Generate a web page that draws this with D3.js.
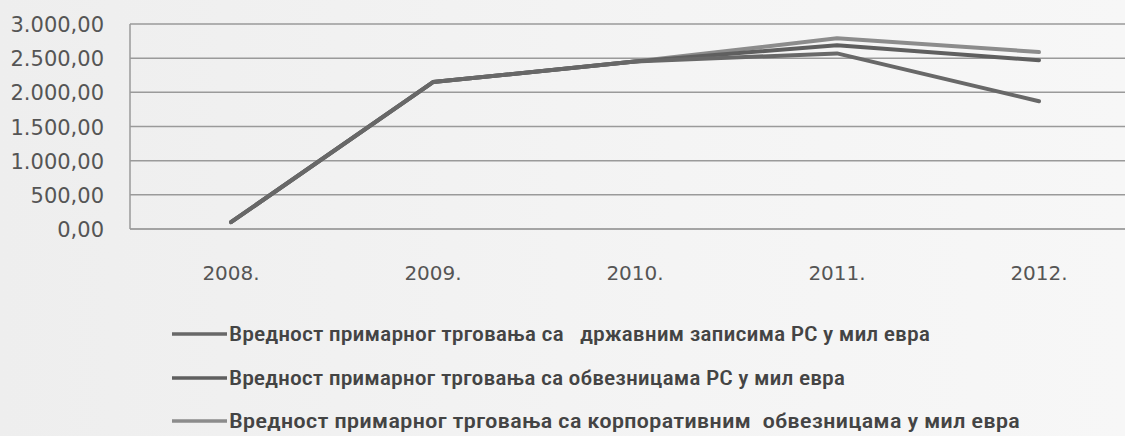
<!DOCTYPE html>
<html><head><meta charset="utf-8">
<script src="https://cdn.jsdelivr.net/npm/d3@7/dist/d3.min.js"></script>
<style>body{margin:0;background:#f2f2f2;}svg{display:block;}</style>
</head><body><svg id="c" width="1125" height="436"></svg>
<script>
const years = ["2008.", "2009.", "2010.", "2011.", "2012."];
const stateBills = [100, 2150, 2450, 2570, 1870];
const bondsRS = [100, 2150, 2450, 2690, 2470];
const corpBonds = [100, 2150, 2450, 2790, 2590];
const yTicks = [0, 500, 1000, 1500, 2000, 2500, 3000];
const seriesNames = [
  "Вредност примарног трговања са   државним записима РС у мил евра",
  "Вредност примарног трговања са обвезницама РС у мил евра",
  "Вредност примарног трговања са корпоративним  обвезницама у мил евра"
];
const seriesData = [stateBills, bondsRS, corpBonds];
const colors = ["#686868", "#5f5f5f", "#8c8c8c"];
const legendWidths = [701, 616, 791];

const svg = d3.select("#c");
const defs = svg.append("defs");
const g = defs.append("linearGradient").attr("id","bg").attr("x1","0").attr("x2","1");
g.append("stop").attr("offset","0").attr("stop-color","#eeeeee");
g.append("stop").attr("offset","0.6").attr("stop-color","#f4f4f4");
g.append("stop").attr("offset","1").attr("stop-color","#f7f7f7");
svg.append("rect").attr("width",1125).attr("height",436).attr("fill","url(#bg)");

const x = d3.scaleBand().domain(years).range([130, 1140]);
const y = d3.scaleLinear().domain([0, 3000]).range([229, 24]);
const loc = d3.formatLocale({decimal: ",", thousands: ".", grouping: [3], currency: ["", ""]});
const fmt = loc.format(",.2f");

// gridlines
svg.append("g").selectAll("line").data(yTicks).join("line")
  .attr("x1", 130).attr("x2", 1125)
  .attr("y1", d => y(d)).attr("y2", d => y(d))
  .attr("stroke", d => d === 0 ? "#8a8a8a" : "#9a9a9a").attr("stroke-width", 1.5);
svg.append("line").attr("x1",130).attr("x2",130).attr("y1",y(3000)).attr("y2",y(0))
  .attr("stroke","#9a9a9a").attr("stroke-width",1.5);

// y axis labels
const yAxis = svg.append("g").attr("transform","translate(104,0)")
  .call(d3.axisLeft(y).tickValues(yTicks).tickFormat(fmt).tickSize(0).tickPadding(0));
yAxis.select(".domain").remove();
yAxis.selectAll("text").attr("font-family","DejaVu Sans").attr("font-size",21)
  .attr("fill","#555").attr("dy","0.36em");

// x axis labels
const xAxis = svg.append("g").attr("transform","translate(0,264)")
  .call(d3.axisBottom(x).tickSize(0).tickPadding(0));
xAxis.select(".domain").remove();
xAxis.selectAll("text").attr("font-family","DejaVu Sans").attr("font-size",20)
  .attr("fill","#555").attr("dy","0.78em");

// lines
const line = d3.line().x((d,i) => x(years[i]) + x.bandwidth()/2).y(d => y(d));
[2,1,0].forEach(k => {
  svg.append("path").datum(seriesData[k]).attr("d", line)
    .attr("fill","none").attr("stroke",colors[k]).attr("stroke-width",4)
    .attr("stroke-linejoin","round").attr("stroke-linecap","round");
});

// legend
const ly = [334, 378, 421];
seriesNames.forEach((name, k) => {
  svg.append("line").attr("x1",172).attr("x2",227).attr("y1",ly[k]).attr("y2",ly[k])
    .attr("stroke",colors[k]).attr("stroke-width",3.5);
  svg.append("text").attr("x",229).attr("y",ly[k]).attr("dy","0.35em")
    .attr("font-family","'Liberation Sans Narrow','Roboto Condensed','Open Sans',sans-serif")
    .attr("font-size",20).attr("fill","#444").attr("font-weight",500)
    .attr("textLength", legendWidths[k]).attr("lengthAdjust","spacingAndGlyphs")
    .style("white-space","pre")
    .text(name);
});
</script></body></html>
